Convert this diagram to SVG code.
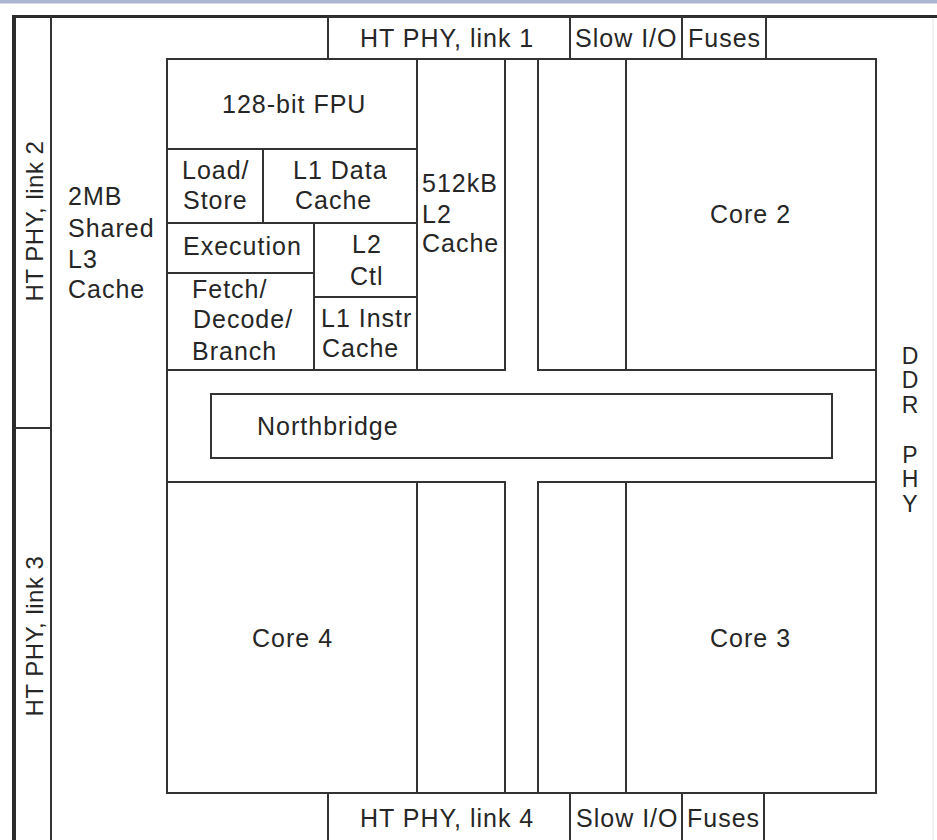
<svg xmlns="http://www.w3.org/2000/svg" width="937" height="840" viewBox="0 0 937 840">
<style>
.b{fill:none;stroke:#333;stroke-width:2}
.l{fill:none;stroke:#333;stroke-width:2}
text{font-family:"Liberation Sans",Arial,sans-serif;font-size:25px;letter-spacing:1px;fill:#262626}
.v{font-size:24px;letter-spacing:0.5px;text-anchor:middle}
.c{text-anchor:middle;letter-spacing:0;font-size:23px}
</style>
<rect x="0" y="0" width="937" height="840" fill="#ffffff"/>
<rect x="0" y="0" width="937" height="3.5" fill="#abb6cf"/>
<line x1="933" y1="18" x2="933" y2="840" stroke="#e6e6e6" stroke-width="1"/>

<g id="frame">
<line x1="12" y1="16.5" x2="937" y2="16.5" stroke="#2b2b2b" stroke-width="3"/>
<line x1="14" y1="15" x2="14" y2="840" stroke="#2b2b2b" stroke-width="4"/>
</g>

<g id="ht-phy-link2">
<path class="l" d="M51,16V428H14"/>
<text class="v" transform="translate(43,221) rotate(-90)">HT PHY, link 2</text>
</g>
<g id="ht-phy-link3">
<path class="l" d="M51,428V840"/>
<text class="v" transform="translate(43,636) rotate(-90)">HT PHY, link 3</text>
</g>

<g id="l3-cache">
<text x="68" y="205">2MB</text>
<text x="68" y="237">Shared</text>
<text x="68" y="268">L3</text>
<text x="68" y="298">Cache</text>
</g>

<g id="ht-phy-link1">
<rect class="b" x="328" y="17" width="242" height="42"/>
<text x="360" y="47">HT PHY, link 1</text>
</g>
<g id="slow-io-top">
<rect class="b" x="570" y="17" width="112" height="42"/>
<text x="575" y="47">Slow I/O</text>
</g>
<g id="fuses-top">
<rect class="b" x="682" y="17" width="84" height="42"/>
<text x="688" y="47">Fuses</text>
</g>

<g id="core1">
<rect class="b" x="167" y="59" width="250" height="311"/>
<path class="l" d="M167,149H417M263,149V223M167,223H417M314,223V370M167,273H314M314,297H417"/>
<text x="222" y="113">128-bit FPU</text>
<text x="182" y="179">Load/</text>
<text x="183" y="209">Store</text>
<text x="293" y="179">L1 Data</text>
<text x="295" y="209">Cache</text>
<text x="183" y="255">Execution</text>
<text x="352" y="253">L2</text>
<text x="350" y="285">Ctl</text>
<text x="192" y="298">Fetch/</text>
<text x="193" y="328">Decode/</text>
<text x="192" y="360">Branch</text>
<text x="321" y="327">L1 Instr</text>
<text x="322" y="357">Cache</text>
</g>
<g id="l2-cache-1">
<rect class="b" x="417" y="59" width="88" height="311"/>
<text x="422" y="192">512kB</text>
<text x="422" y="223">L2</text>
<text x="422" y="252">Cache</text>
</g>

<g id="l2-cache-2">
<rect class="b" x="538" y="59" width="88" height="311"/>
</g>
<g id="core2">
<rect class="b" x="626" y="59" width="250" height="311"/>
<text x="710" y="223">Core 2</text>
</g>

<g id="crossbar">
<path class="l" d="M167,370V482M876,370V482"/>
</g>
<g id="northbridge">
<rect class="b" x="211" y="394" width="621" height="64"/>
<text x="257" y="435">Northbridge</text>
</g>

<g id="core4">
<rect class="b" x="167" y="482" width="250" height="311"/>
<text x="252" y="647">Core 4</text>
</g>
<g id="l2-cache-4">
<rect class="b" x="417" y="482" width="88" height="311"/>
</g>
<g id="l2-cache-3">
<rect class="b" x="538" y="482" width="88" height="311"/>
</g>
<g id="core3">
<rect class="b" x="626" y="482" width="250" height="311"/>
<text x="710" y="647">Core 3</text>
</g>

<g id="ht-phy-link4">
<path class="l" d="M328,841V793H570"/>
<text x="360" y="827">HT PHY, link 4</text>
</g>
<g id="slow-io-bottom">
<path class="l" d="M570,841V793H682V841"/>
<text x="576" y="827">Slow I/O</text>
</g>
<g id="fuses-bottom">
<path class="l" d="M682,793H764V841"/>
<text x="687" y="827">Fuses</text>
</g>

<g id="ddr-phy">
<text class="c" x="910" y="364">D<tspan x="910" y="388">D</tspan><tspan x="910" y="413">R</tspan><tspan x="910" y="463">P</tspan><tspan x="910" y="487">H</tspan><tspan x="910" y="512">Y</tspan></text>
</g>

<g id="connectors"></g>
</svg>
